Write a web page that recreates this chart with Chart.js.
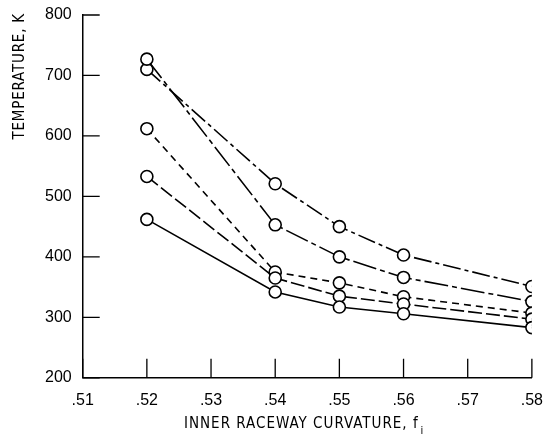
<!DOCTYPE html>
<html>
<head>
<meta charset="utf-8">
<script src="https://cdn.jsdelivr.net/npm/chart.js@4/dist/chart.umd.min.js"></script>
<style>
  html, body { margin: 0; padding: 0; background: #fff; }
  #wrap { width: 556px; height: 435px; }
</style>
</head>
<body>
<div id="wrap"><canvas id="grafica"></canvas></div>
<script>
// curvatura de la pista interior (eje x)
const curvatura = [0.52, 0.54, 0.55, 0.56, 0.58];

// temperaturas (K) de cada curva
const serieA = [710, 521, 450, 403, 351];   // raya-punto, arriba a la derecha
const serieB = [727, 453, 400, 366, 326];   // raya larga-corta
const serieC = [612, 375, 357, 334, 307];   // rayas cortas
const serieD = [533, 365, 335, 322, 297];   // rayas largas
const serieE = [462, 342, 317, 306, 283];   // continua

const ticksX = [0.51, 0.52, 0.53, 0.54, 0.55, 0.56, 0.57, 0.58];
const ticksY = [200, 300, 400, 500, 600, 700, 800];

const FUENTE = "'Liberation Sans', 'DejaVu Sans', sans-serif";
const FUENTE_TIT = "'DejaVu Sans Condensed', 'DejaVu Sans', sans-serif";

function serie(valores, rayas) {
  return {
    data: curvatura.map((x, i) => ({ x, y: valores[i] })),
    borderColor: '#000',
    borderWidth: 1.6,
    borderDash: rayas,
    pointRadius: 6,
    pointHoverRadius: 6,
    pointBorderWidth: 1.6,
    pointBackgroundColor: '#fff',
    pointBorderColor: '#000',
    tension: 0
  };
}

// marcas hacia adentro y titulos de los ejes
const marcas = {
  id: 'marcas',
  afterDraw(chart) {
    const { ctx, chartArea, scales } = chart;
    ctx.save();
    ctx.strokeStyle = '#000';
    ctx.lineWidth = 1.3;
    ctx.beginPath();
    ticksX.forEach(v => {
      const px = scales.x.getPixelForValue(v);
      ctx.moveTo(px, chartArea.bottom);
      ctx.lineTo(px, chartArea.bottom - 19);
    });
    ticksY.forEach(v => {
      const py = scales.y.getPixelForValue(v);
      ctx.moveTo(chartArea.left, py);
      ctx.lineTo(chartArea.left + 17, py);
    });
    ctx.stroke();

    // eje x, con subindice
    const txt = 'INNER RACEWAY CURVATURE, f';
    ctx.fillStyle = '#000';
    ctx.font = '15px ' + FUENTE_TIT;
    ctx.letterSpacing = '1px';
    ctx.textBaseline = 'middle';
    const w = ctx.measureText(txt).width;
    const x0 = (chartArea.left + chartArea.right) / 2 - w / 2 - 6;
    const y0 = chartArea.bottom + 46;
    ctx.textAlign = 'left';
    ctx.fillText(txt, x0, y0);
    ctx.font = '11px ' + FUENTE_TIT;
    ctx.fillText('i', x0 + w + 2, y0 + 7);

    // eje y, girado
    ctx.font = '15px ' + FUENTE_TIT;
    ctx.letterSpacing = '0.8px';
    ctx.translate(20, chartArea.top - 2);
    ctx.rotate(-Math.PI / 2);
    ctx.textAlign = 'right';
    ctx.fillText('TEMPERATURE, K', 0, 0);
    ctx.restore();
  }
};

new Chart(document.getElementById('grafica'), {
  type: 'line',
  data: {
    datasets: [
      serie(serieE, []),
      serie(serieD, [14, 4]),
      serie(serieC, [7, 5]),
      serie(serieB, [24, 4, 5, 4]),
      serie(serieA, [18, 4, 4, 4])
    ]
  },
  options: {
    responsive: true,
    maintainAspectRatio: false,
    animation: false,
    layout: { padding: { top: 15, right: 19, bottom: 12, left: 34 } },
    plugins: {
      legend: { display: false },
      tooltip: { enabled: false }
    },
    scales: {
      x: {
        type: 'linear',
        min: 0.51,
        max: 0.58,
        afterBuildTicks: s => { s.ticks = ticksX.map(v => ({ value: v })); },
        grid: { display: false, drawTicks: false },
        border: { display: true, color: '#000', width: 1.5 },
        ticks: {
          color: '#000',
          padding: 13,
          maxRotation: 0,
          autoSkip: false,
          font: { family: FUENTE, size: 16 },
          callback: v => '.' + Math.round(v * 100)
        }
      },
      y: {
        min: 200,
        max: 800,
        afterBuildTicks: s => { s.ticks = ticksY.map(v => ({ value: v })); },
        afterFit: s => { s.paddingTop = 0; s.paddingBottom = 0; },
        grid: { display: false, drawTicks: false },
        border: { display: true, color: '#000', width: 1.5 },
        ticks: {
          color: '#000',
          padding: 11,
          font: { family: FUENTE, size: 16 }
        }
      }
    }
  },
  plugins: [marcas]
});
</script>
</body>
</html>
